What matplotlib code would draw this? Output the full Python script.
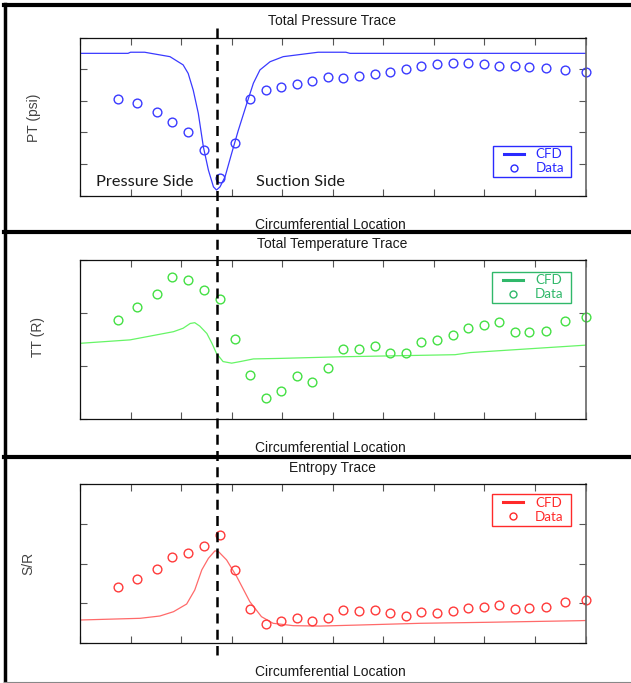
import matplotlib
matplotlib.use("Agg")
import matplotlib.pyplot as plt
from matplotlib.lines import Line2D
from matplotlib.patches import Rectangle
import matplotlib.transforms as mtransforms

plt.rcParams['font.family'] = ['Liberation Sans', 'DejaVu Sans']

# ---------------- data ----------------
# circumferential location of the probe measurements (shared by all traces)
x_data = [0.75, 1.13, 1.52, 1.82, 2.14, 2.45, 2.76, 3.06, 3.37, 3.67,
          3.98, 4.29, 4.59, 4.91, 5.21, 5.52, 5.84, 6.14, 6.44, 6.74,
          7.06, 7.37, 7.67, 7.99, 8.29, 8.61, 8.89, 9.21, 9.60, 10.0]

pt_data = [3.07, 2.92, 2.65, 2.34, 2.01, 1.46, 0.57, 1.66, 3.07, 3.35,
           3.45, 3.54, 3.62, 3.75, 3.74, 3.80, 3.84, 3.92, 4.01, 4.11,
           4.18, 4.21, 4.21, 4.18, 4.11, 4.11, 4.07, 4.04, 3.98, 3.93]

tt_data = [1.86, 2.11, 2.36, 2.68, 2.62, 2.44, 2.26, 1.51, 0.82, 0.39,
           0.52, 0.80, 0.69, 0.96, 1.32, 1.32, 1.37, 1.25, 1.25, 1.45,
           1.49, 1.59, 1.71, 1.77, 1.83, 1.63, 1.64, 1.66, 1.85, 1.92]

sr_data = [1.40, 1.61, 1.87, 2.16, 2.27, 2.43, 2.72, 1.83, 0.84, 0.48,
           0.54, 0.62, 0.56, 0.63, 0.83, 0.80, 0.83, 0.74, 0.68, 0.77,
           0.74, 0.79, 0.87, 0.90, 0.94, 0.85, 0.88, 0.90, 1.04, 1.08]

# CFD traces
pt_cfd_x = [0.0, 0.95, 1.0, 1.28, 1.385, 1.78, 2.04, 2.14, 2.24, 2.34, 2.44,
            2.54, 2.64, 2.70, 2.77, 2.87, 3.00, 3.13, 3.30, 3.43, 3.56,
            3.76, 4.02, 4.71, 5.26, 5.34, 10.0]
pt_cfd_y = [4.505, 4.505, 4.54, 4.54, 4.51, 4.40, 4.14, 3.87, 3.34, 2.61, 1.55,
            0.81, 0.28, 0.18, 0.28, 0.60, 1.34, 2.06, 2.92, 3.56, 3.98,
            4.24, 4.40, 4.54, 4.54, 4.505, 4.505]

tt_cfd_x = [0.0, 0.99, 1.85, 2.04, 2.18, 2.27, 2.37, 2.51, 2.61, 2.70, 2.83,
            3.00, 3.17, 3.43, 3.96, 5.14, 7.42, 7.72, 10.0]
tt_cfd_y = [1.425, 1.49, 1.645, 1.71, 1.80, 1.815, 1.75, 1.61, 1.425, 1.235,
            1.08, 1.05, 1.08, 1.13, 1.14, 1.17, 1.21, 1.25, 1.39]

sr_cfd_x = [0.0, 1.19, 1.58, 1.85, 2.11, 2.27, 2.41, 2.54, 2.67, 2.74, 2.90,
            3.10, 3.36, 3.59, 3.82, 4.22, 4.75, 5.54, 6.73, 8.05, 9.89, 10.0]
sr_cfd_y = [0.573, 0.616, 0.674, 0.783, 0.977, 1.33, 1.84, 2.13, 2.32, 2.30,
            2.09, 1.67, 1.035, 0.657, 0.49, 0.43, 0.42, 0.447, 0.49, 0.515,
            0.556, 0.56]

blade_x = 2.72  # leading-edge reference line

titles = ["Total Pressure Trace", "Total Temperature Trace", "Entropy Trace"]
ylabels = ["PT (psi)", "TT (R)", "S/R"]
xlabel = "Circumferential Location"
legend_labels = ["CFD", "Data"]

# ---------------- figure ----------------
W, H = 631, 683
fig = plt.figure(figsize=(W / 100, H / 100), dpi=100)

def fx(px):
    return px / W

def fy(py):
    return 1 - py / H

panels = [
    dict(top=37.7, bot=195.7, ylim=(0, 5), yt=[0, 1, 2, 3, 4, 5],
         cx=pt_cfd_x, cy=pt_cfd_y, d=pt_data,
         lc="#3a3aff", mc="#3a3aff", gc="#2a2aff",
         leg=(0.817, 0.118, 0.971, 0.316), title_y=21, xl_y=225,
         yl=(34, 118)),
    dict(top=260.0, bot=418.7, ylim=(0, 3), yt=[0, 1, 2, 3],
         cx=tt_cfd_x, cy=tt_cfd_y, d=tt_data,
         lc="#66f566", mc="#44e044", gc="#30b86a",
         leg=(0.815, 0.731, 0.971, 0.926), title_y=244.3, xl_y=448.3,
         yl=(38, 337)),
    dict(top=484.3, bot=642.7, ylim=(0, 4), yt=[0, 1, 2, 3, 4],
         cx=sr_cfd_x, cy=sr_cfd_y, d=sr_data,
         lc="#ff6a6a", mc="#ff3a3a", gc="#ff2a2a",
         leg=(0.815, 0.739, 0.971, 0.939), title_y=468.3, xl_y=672.3,
         yl=(28, 563)),
]

L, R = 80, 585.5
axes = []
for i, p in enumerate(panels):
    ax = fig.add_axes([fx(L), fy(p['bot']), fx(R) - fx(L), (p['bot'] - p['top']) / H])
    axes.append(ax)
    ax.plot(p['cx'], p['cy'], color=p['lc'], lw=0.9)
    ax.plot(x_data, p['d'], ls='none', marker='o', ms=6.3, mfc='none',
            mec=p['mc'], mew=1.0, clip_on=False)
    ax.set_xlim(0, 10)
    ax.set_ylim(*p['ylim'])
    ax.set_xticks(range(0, 11))
    ax.set_yticks(p['yt'])
    ax.tick_params(direction='in', length=5, width=0.8, colors='#555555',
                   top=True, right=True, labelbottom=False, labelleft=False)
    for s in ['left', 'bottom', 'top']:
        ax.spines[s].set_color('#111111')
        ax.spines[s].set_linewidth(0.9)
    ax.spines['right'].set_color('#666666')
    ax.spines['right'].set_linewidth(1.2)

    # titles / labels
    fig.text(fx(332), fy(p['title_y']), titles[i], ha='center', va='center',
             fontsize=10, color='#1a1a1a')
    fig.text(fx(330), fy(p['xl_y']), xlabel, ha='center', va='center',
             fontsize=10, color='#1a1a1a')
    fig.text(fx(p['yl'][0]), fy(p['yl'][1]), ylabels[i], ha='center',
             va='center', rotation=90, fontsize=10, color='#444444')

    # legend
    x0, y0, x1, y1 = p['leg']
    ax.add_patch(Rectangle((x0, y0), x1 - x0, y1 - y0, transform=ax.transAxes,
                           fill=True, facecolor='white', edgecolor=p['gc'],
                           lw=1.0, zorder=5))
    handles = [Line2D([], [], color=p['gc'], lw=2.2),
               Line2D([], [], ls='none', marker='o', ms=5, mfc='none',
                      mec=p['gc'], mew=1.0)]
    leg = ax.legend(handles, legend_labels, loc='center',
                    bbox_to_anchor=((x0 + x1) / 2 + 0.004, (y0 + y1) / 2),
                    frameon=False, handlelength=1.5,
                    handletextpad=0.9, labelspacing=0.15, borderpad=0.1,
                    prop={'family': ['Lato', 'DejaVu Sans'], 'size': 9.6})
    leg.set_zorder(6)
    for t in leg.get_texts():
        t.set_color(p['gc'])

# side annotations in the top panel
ax0 = axes[0]
fig.text(fx(96), fy(182), "Pressure Side", ha='left', va='center',
         fontsize=11.8, family=['Lato', 'DejaVu Sans'], color='#1a1a1a')
fig.text(fx(256), fy(182), "Suction Side", ha='left', va='center',
         fontsize=11.8, family=['Lato', 'DejaVu Sans'], color='#1a1a1a')

# dashed reference line through all panels
trans = mtransforms.blended_transform_factory(ax0.transData, fig.transFigure)
fig.add_artist(Line2D([blade_x, blade_x], [fy(28), fy(655)], transform=trans,
                      color='black', lw=1.8, ls=(0, (4, 2.5)), zorder=10))

# outer frame and separators
frame_kw = dict(color='black', transform=fig.transFigure)
fig.add_artist(Line2D([fx(4), 1], [fy(5), fy(5)], lw=3.0, **frame_kw))
fig.add_artist(Line2D([fx(4), 1], [fy(231.7), fy(231.7)], lw=3.0, **frame_kw))
fig.add_artist(Line2D([fx(4), 1], [fy(457), fy(457)], lw=3.0, **frame_kw))
fig.add_artist(Line2D([fx(5), fx(5)], [fy(4), fy(683)], lw=2.5, **frame_kw))
fig.add_artist(Line2D([fx(4), 1], [fy(681.5), fy(681.5)], lw=0.8,
                      color='#888888', transform=fig.transFigure))

fig.savefig("out.png", dpi=100)
